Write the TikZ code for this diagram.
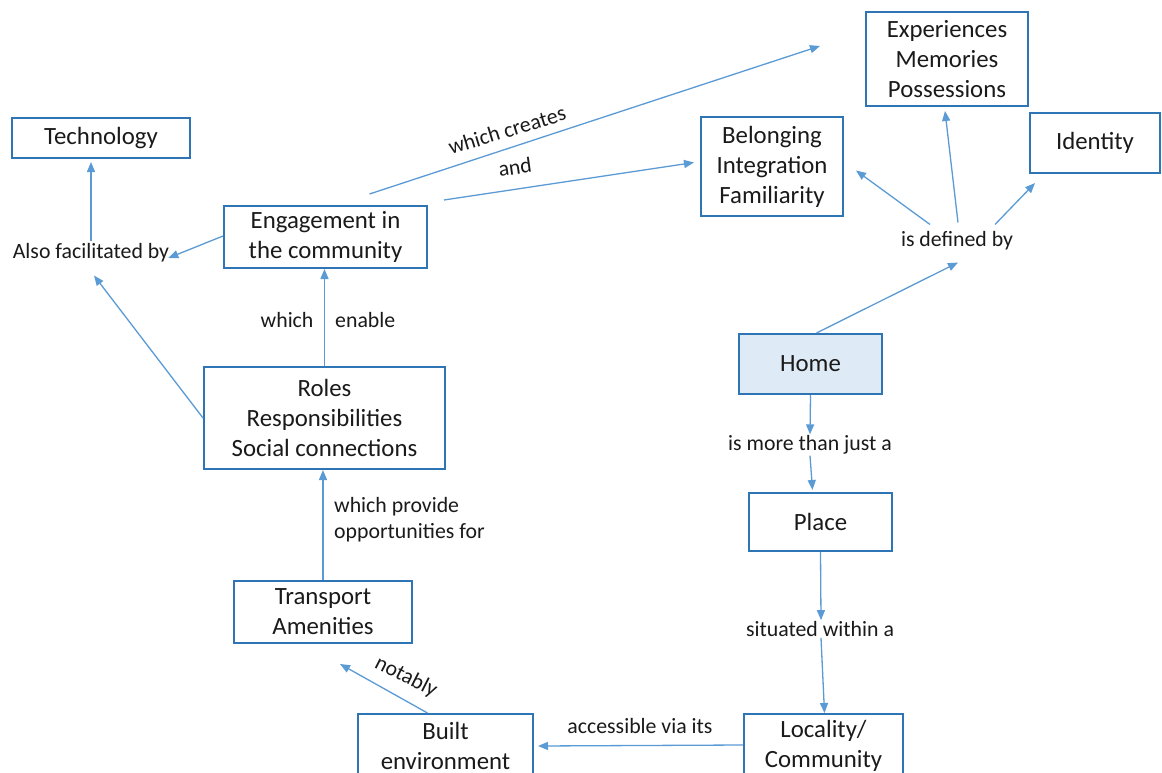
\documentclass[tikz,border=0pt]{standalone}
\usepackage{fontspec}
\setmainfont{Carlito}
\usetikzlibrary{arrows.meta,calc}
\definecolor{boxblue}{HTML}{2E75B6}
\definecolor{arrblue}{HTML}{5B9BD5}
\definecolor{homefill}{HTML}{DEEBF7}
\definecolor{txt}{HTML}{1A1A1A}
\begin{document}
\begin{tikzpicture}[x=1pt,y=-1pt,
 box/.style={draw=boxblue,line width=2pt,text=txt,align=center,font=\fontsize{24.8}{30}\selectfont,inner sep=0pt},
 lab/.style={text=txt,font=\fontsize{21.8}{26}\selectfont,inner sep=1pt,align=center},
 arr/.style={draw=arrblue,line width=1.3pt,-{Triangle[length=10pt,width=8pt]}}]
\useasboundingbox (0,0) rectangle (1162,773);
\clip (0,0) rectangle (1162,773);
\fill[white] (0,0) rectangle (1162,773);
% boxes
\node[box,minimum width=178pt,minimum height=40pt] (tech) at (101,138) {Technology};
\node[box,minimum width=203pt,minimum height=62pt] (eng) at (325.5,237) {Engagement in\\the community};
\node[box,minimum width=142pt,minimum height=99pt] (bel) at (772,166.5) {Belonging\\Integration\\Familiarity};
\node[box,minimum width=162pt,minimum height=94pt] (exp) at (947,59) {Experiences\\Memories\\Possessions};
\node[box,minimum width=130pt,minimum height=60pt] (ident) at (1095,143) {Identity};
\node[box,fill=homefill,minimum width=143pt,minimum height=60pt] (home) at (810.5,364) {Home};
\node[box,minimum width=143pt,minimum height=58pt] (place) at (820.5,522) {Place};
\node[box,minimum width=159pt,minimum height=64pt] (loc) at (823.5,746) {Locality/\\Community};
\node[box,minimum width=175pt,minimum height=64pt] (built) at (445.5,746) {Built\\environment};
\node[box,minimum width=178pt,minimum height=62pt] (trans) at (323,612) {Transport\\Amenities};
\node[box,minimum width=241pt,minimum height=102pt] (roles) at (324.5,418) {Roles\\Responsibilities\\Social connections};
% labels
\node[lab] (also) at (91,253) {Also facilitated by};
\node[lab] (enable) at (328,320) {which\quad enable};
\node[lab,anchor=west,align=left] (provide) at (333,520) {which provide\\opportunities for};
\node[lab,rotate=-27] (notably) at (406,677) {notably};
\node[lab] (access) at (640,726) {accessible via its};
\node[lab] (situated) at (820,629) {situated within a};
\node[lab] (more) at (810,445) {is more than just a};
\node[lab] (defined) at (957,241) {is defined by};
\node[lab,rotate=17] (creates) at (507,130) {which creates};
\node[lab,rotate=8] (and) at (515,167) {and};
% free ends
\coordinate (wcEnd) at (820,46);
\coordinate (ntEnd) at (340,664);
% connectors
\draw[arr] ($(eng.west)+(0,-1)$) -- ($(also.east)+(-2,5)$);
\draw[arr] ($(also.north)+(0,-1)$) -- ($(also.north |- tech.south)+(0,3)$);
\draw[arr] (roles.west) -- ($(also.south)+(3,12)$);
\draw[arr] (roles.north) -- (roles.north |- eng.south);
\draw[arr] (trans.north) -- (trans.north |- roles.south);
\draw[arr] ($(built.north)+(-18,0)$) -- (ntEnd);
\draw[arr] ($(loc.west)+(0,-1)$) -- ($(built.east)+(4,0)$);
\draw[arr] (place.south) -- ($(situated.north)+(1,0)$);
\draw[arr] ($(situated.south)+(1,0)$) -- ($(loc.north)+(1,0)$);
\draw[arr] (home.south) -- (more.north);
\draw[arr] (more.south) -- ($(place.north)+(-8,-2)$);
\draw[arr] ($(home.north)+(6,0)$) -- ($(defined.south)+(1,11)$);
\draw[arr] ($(defined.north)+(-27,-6)$) -- ($(bel.east)+(12,4)$);
\draw[arr] ($(defined.north)+(1,-8)$) -- ($(exp.south)+(-2,4)$);
\draw[arr] ($(defined.north)+(38,-6)$) -- ($(ident.south west)+(6,9)$);
\draw[arr] ($(eng.north)+(44,-11)$) -- (wcEnd);
\draw[arr] ($(eng.north east)+(16,-5)$) -- ($(bel.west)+(-6,-4)$);
\end{tikzpicture}
\end{document}
